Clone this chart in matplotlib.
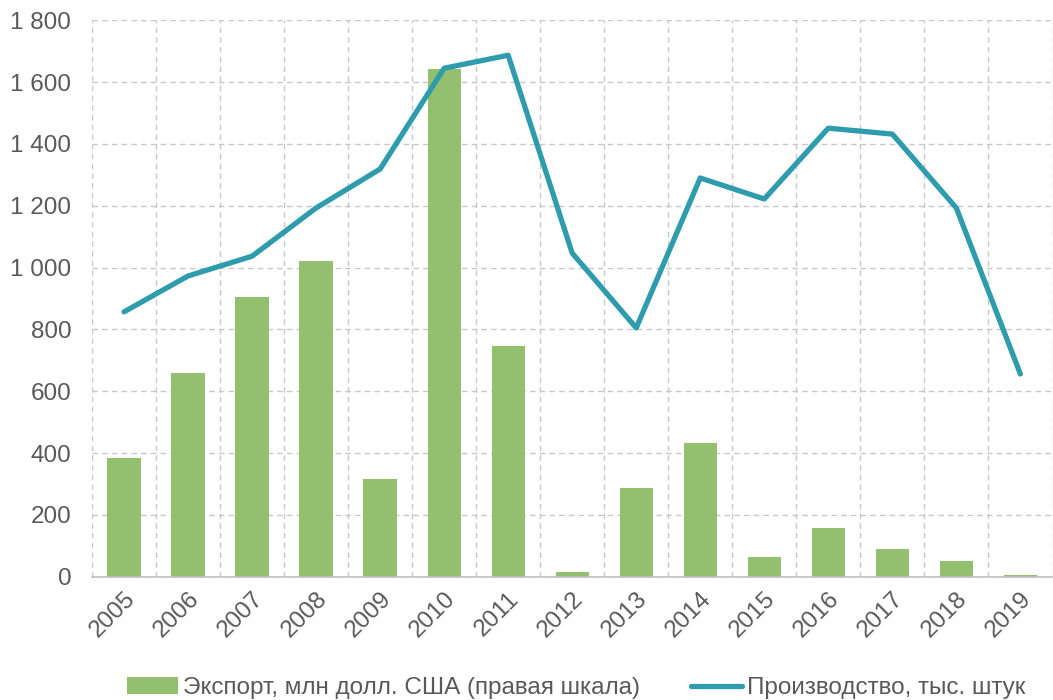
import matplotlib.pyplot as plt
from matplotlib.ticker import FuncFormatter, MultipleLocator

years = [str(y) for y in range(2005, 2020)]
export = [385, 659, 905, 1021, 317, 1642, 747, 16, 288, 433, 65, 158, 90, 52, 6]
production = [857, 973, 1037, 1193, 1319, 1645, 1687, 1047, 805, 1290, 1222, 1451, 1432, 1193, 656]

plt.rcParams['font.family'] = ['Liberation Sans', 'DejaVu Sans']
grey = '#595959'

fig = plt.figure(figsize=(10.53, 7), dpi=100)
ax = fig.add_axes([0.0874, 0.176, 0.912, 0.795])

x = list(range(len(years)))
bars = ax.bar(x, export, width=0.52, color='#93C06F', zorder=2)
line, = ax.plot(x, production, color='#2E9CAD', lw=3.8, solid_capstyle='round',
                solid_joinstyle='round', zorder=3)

ax.set_xlim(-0.5, len(years) - 0.5)
ax.set_ylim(0, 1800)
ax.yaxis.set_major_locator(MultipleLocator(200))
ax.yaxis.set_major_formatter(FuncFormatter(lambda v, p: f'{int(v):,}'.replace(',', ' ')))

ax.set_xticks(x)
ax.set_xticklabels(years, rotation=45, ha='right', rotation_mode='anchor')
ax.set_xticks([i - 0.5 for i in range(len(years) + 1)], minor=True)
ax.grid(axis='y', which='major', color='#c8c8c8', ls=(0, (4, 3)), lw=1)
ax.grid(axis='x', which='minor', color='#c8c8c8', ls=(0, (4, 3)), lw=1)
ax.tick_params(axis='both', which='both', length=0, labelsize=17.5, colors=grey)
ax.tick_params(axis='x', pad=8)
ax.tick_params(axis='y', pad=15)
ax.set_axisbelow(True)

for s in ['top', 'right', 'left']:
    ax.spines[s].set_visible(False)
ax.spines['bottom'].set_color('#c0c0c0')
ax.spines['bottom'].set_linewidth(1.2)

leg = fig.legend([bars, line], ['Экспорт, млн долл. США (правая шкала)', 'Производство, тыс. штук'],
                 loc='lower center', bbox_to_anchor=(0.547, -0.03), ncol=2, frameon=False,
                 fontsize=17.5, handlelength=2.1, handletextpad=0.2, columnspacing=2.1)
for t in leg.get_texts():
    t.set_color(grey)

fig.savefig('out.png', dpi=100)
